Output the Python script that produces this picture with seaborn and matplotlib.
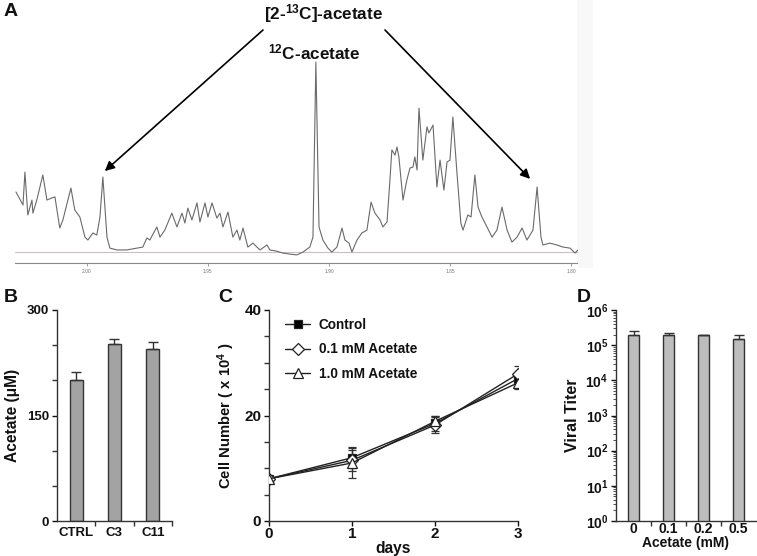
import numpy as np
import pandas as pd
import matplotlib
matplotlib.use("Agg")
import matplotlib.pyplot as plt
from matplotlib.patches import Rectangle
from matplotlib.ticker import MultipleLocator, LogLocator, NullFormatter, FixedLocator
import seaborn as sns

# ---------------- data ----------------
# Panel A: NMR spectrum (ppm, intensity)
spec_ppm = [2.0293, 2.0264, 2.0256, 2.0244, 2.0227, 2.0223, 2.0207, 2.0182, 2.0165, 2.0145,
            2.0132, 2.0112, 2.0099, 2.0066, 2.0050, 2.0029, 2.0008, 1.9996, 1.9975, 1.9959,
            1.9946, 1.9934, 1.9917, 1.9905, 1.9876, 1.9835, 1.9793, 1.9769, 1.9752, 1.9740,
            1.9711, 1.9698, 1.9678, 1.9649, 1.9628, 1.9607, 1.9595, 1.9583, 1.9566, 1.9545,
            1.9533, 1.9512, 1.9500, 1.9483, 1.9463, 1.9450, 1.9438, 1.9417, 1.9397, 1.9380,
            1.9368, 1.9355, 1.9335, 1.9314, 1.9285, 1.9256, 1.9244, 1.9219, 1.9190, 1.9161,
            1.9132, 1.9107, 1.9079, 1.9066, 1.9054, 1.9041, 1.9025, 1.9004, 1.8988, 1.8967,
            1.8946, 1.8934, 1.8917, 1.8905, 1.8884, 1.8864, 1.8843, 1.8826, 1.8810, 1.8789,
            1.8777, 1.8760, 1.8748, 1.8740, 1.8727, 1.8719, 1.8711, 1.8694, 1.8678, 1.8665,
            1.8653, 1.8645, 1.8636, 1.8628, 1.8612, 1.8595, 1.8587, 1.8570, 1.8554, 1.8541,
            1.8525, 1.8512, 1.8500, 1.8488, 1.8471, 1.8455, 1.8446, 1.8426, 1.8413, 1.8397,
            1.8384, 1.8368, 1.8347, 1.8326, 1.8306, 1.8285, 1.8264, 1.8244, 1.8223, 1.8202,
            1.8182, 1.8157, 1.8140, 1.8124, 1.8116, 1.8087, 1.8058, 1.8033, 1.8004, 1.7983,
            1.7971]
spec_int = [0.0230, 0.0180, 0.0306, 0.0142, 0.0199, 0.0149, 0.0199, 0.0295, 0.0199, 0.0207,
            0.0211, 0.0092, 0.0123, 0.0245, 0.0161, 0.0134, 0.0057, 0.0046, 0.0073, 0.0065,
            0.0134, 0.0287, 0.0057, 0.0015, 0.0008, 0.0008, 0.0015, 0.0019, 0.0054, 0.0046,
            0.0096, 0.0057, 0.0084, 0.0149, 0.0096, 0.0149, 0.0111, 0.0168, 0.0123, 0.0188,
            0.0115, 0.0188, 0.0134, 0.0188, 0.0130, 0.0149, 0.0096, 0.0153, 0.0057, 0.0084,
            0.0046, 0.0092, 0.0019, 0.0034, 0.0008, 0.0027, 0.0008, 0.0004, -0.0004, -0.0008,
            -0.0011, 0.0000, 0.0019, 0.0057, 0.0727, 0.0096, 0.0046, 0.0015, 0.0000, 0.0019,
            0.0092, 0.0046, 0.0034, 0.0000, 0.0046, 0.0073, 0.0084, 0.0191, 0.0149, 0.0123,
            0.0096, 0.0115, 0.0276, 0.0391, 0.0371, 0.0402, 0.0364, 0.0199, 0.0276, 0.0322,
            0.0325, 0.0364, 0.0314, 0.0551, 0.0352, 0.0479, 0.0456, 0.0486, 0.0249, 0.0352,
            0.0237, 0.0345, 0.0352, 0.0517, 0.0302, 0.0111, 0.0084, 0.0142, 0.0134, 0.0295,
            0.0172, 0.0134, 0.0096, 0.0057, 0.0084, 0.0172, 0.0084, 0.0038, 0.0057, 0.0092,
            0.0046, 0.0084, 0.0249, 0.0057, 0.0027, 0.0034, 0.0027, 0.0019, 0.0015, -0.0004,
            0.0008]
a_xticks = [2.00, 1.95, 1.90, 1.85, 1.80]
a_yticks = [0.00, 0.02, 0.04, 0.06, 0.08]

# Panel B
b_cats = ["CTRL", "C3", "C11"]
b_vals = [200, 251, 245]
b_err = [12, 8, 10]

# Panel C
c_days = [0, 1, 2, 3]
c_series = ["Control", "0.1 mM Acetate", "1.0 mM Acetate"]
c_control = [8.0, 12.0, 18.5, 27.0]
c_control_err = [0.5, 2.0, 1.5, 1.0]
c_ac01 = [8.0, 11.5, 18.2, 27.9]
c_ac01_err = [0.5, 2.0, 1.5, 1.4]
c_ac10 = [8.0, 11.0, 18.9, 26.2]
c_ac10_err = [0.5, 2.8, 1.0, 1.1]

# Panel D
d_cats = ["0", "0.1", "0.2", "0.5"]
d_vals = [2.0e5, 1.9e5, 1.9e5, 1.5e5]
d_err = [0.5e5, 0.3e5, 0.1e5, 0.4e5]

# ---------------- style ----------------
sns.set_style("ticks")
plt.rcParams["font.family"] = ["Liberation Sans", "DejaVu Sans"]
plt.rcParams["font.weight"] = "bold"
plt.rcParams["mathtext.fontset"] = "custom"
plt.rcParams["mathtext.rm"] = "Liberation Sans:bold"
plt.rcParams["mathtext.bf"] = "Liberation Sans:bold"
plt.rcParams["mathtext.it"] = "Liberation Sans:bold"
plt.rcParams["mathtext.default"] = "rm"

W, H = 757, 556
fig = plt.figure(figsize=(W / 100, H / 100), dpi=100)
fig.patch.set_facecolor("white")


def fx(px):
    return px / W


def fy(py):
    return 1 - py / H


TXT = "#111111"
FS = 9.5     # tick labels
FL = 11.2    # axis labels

# ---------------- Panel A ----------------
fig.patches.append(Rectangle((fx(578), fy(268)), fx(15), 268 / H, transform=fig.transFigure,
                             facecolor="#f8f8f8", edgecolor="none", zorder=0))
axA = fig.add_axes([fx(15), fy(263), fx(578 - 15), 263 / H])
axA.patch.set_alpha(0)
sns.lineplot(x=spec_ppm, y=spec_int, ax=axA, color="#6a6a6a", lw=0.8, sort=True, estimator=None)
axA.axhline(0, color="#cdbfbf", lw=0.8, zorder=0)
axA.set_xlim(2.0297, 1.7971)
axA.set_ylim(-0.0042, 0.0965)
for s in ["left", "top"]:
    axA.spines[s].set_visible(False)
for s in ["right", "bottom"]:
    axA.spines[s].set_color("#888888")
    axA.spines[s].set_linewidth(0.8)
axA.yaxis.tick_right()
axA.set_yticks(a_yticks)
axA.set_yticklabels([f"{v:.2f}" for v in a_yticks])
axA.set_xticks(a_xticks)
axA.set_xticklabels([f"{v:.2f}" for v in a_xticks])
axA.tick_params(axis="both", labelsize=3.5, colors="#777777", length=2, width=0.5, pad=2)
for lab in axA.get_xticklabels() + axA.get_yticklabels():
    lab.set_fontweight("normal")

axA.annotate("", xy=(1.9926, 0.0310), xycoords="data", xytext=(263, H - 30),
             textcoords="figure pixels",
             arrowprops=dict(arrowstyle="-|>", color="black", lw=1.2, mutation_scale=14,
                             shrinkA=0, shrinkB=0))
axA.annotate("", xy=(1.8169, 0.0280), xycoords="data", xytext=(385, H - 30),
             textcoords="figure pixels",
             arrowprops=dict(arrowstyle="-|>", color="black", lw=1.2, mutation_scale=14,
                             shrinkA=0, shrinkB=0))
fig.text(fx(324), fy(14), r"[2-$^{13}$C]-acetate", ha="center", va="center",
         fontsize=12.3, fontweight="bold", color=TXT)
fig.text(fx(314), fy(52), r"$^{12}$C-acetate", ha="center", va="center",
         fontsize=12.3, fontweight="bold", color=TXT)
fig.text(fx(4), fy(12), "A", ha="left", va="center", fontsize=14, fontweight="bold", color=TXT)


def style_small(ax, fs=FS):
    sns.despine(ax=ax)
    for s in ["left", "bottom"]:
        ax.spines[s].set_color("#333333")
        ax.spines[s].set_linewidth(1.0)
    ax.tick_params(axis="both", which="major", labelsize=fs, colors=TXT, width=1.0, length=3.5, pad=2)
    ax.tick_params(axis="both", which="minor", width=1.0, length=3.5, color="#333333")
    for lab in ax.get_xticklabels() + ax.get_yticklabels():
        lab.set_fontweight("bold")


# ---------------- Panel B ----------------
axB = fig.add_axes([fx(57), fy(521), fx(172 - 57), (521 - 310) / H])
dfB = pd.DataFrame({"cat": b_cats, "val": b_vals})
sns.barplot(data=dfB, x="cat", y="val", ax=axB, color="#a3a3a3", edgecolor="#333333",
            linewidth=1.0, width=0.34, saturation=1)
axB.errorbar(range(len(b_cats)), b_vals, yerr=[[0] * len(b_err), b_err], fmt="none",
             ecolor="#333333", elinewidth=1.0, capsize=3.5, capthick=1.0)
axB.set_xlim(-0.5, 2.5)
axB.set_ylim(0, 300)
axB.set_yticks([0, 150, 300])
axB.yaxis.set_minor_locator(MultipleLocator(50))
axB.xaxis.set_minor_locator(FixedLocator([0.5, 1.5, 2.5]))
axB.set_xlabel("")
axB.set_ylabel("Acetate (\u03bcM)", fontsize=FL, fontweight="bold", color=TXT, labelpad=5)
style_small(axB)
axB.tick_params(axis="x", which="major", length=0, pad=4)
fig.text(fx(4), fy(297), "B", ha="left", va="center", fontsize=14, fontweight="bold", color=TXT)

# ---------------- Panel C ----------------
axC = fig.add_axes([fx(269), fy(521), fx(518 - 269), (521 - 310) / H])
c_vals = [c_control, c_ac01, c_ac10]
c_errs = [c_control_err, c_ac01_err, c_ac10_err]
c_markers = ["s", "D", "^"]
c_faces = ["black", "white", "white"]
c_msize = [6, 6, 7.5]
for name, vals, errs, mk, fc, ms in zip(c_series, c_vals, c_errs, c_markers, c_faces, c_msize):
    axC.errorbar(c_days, vals, yerr=errs, fmt="none", ecolor="#333333", elinewidth=0.9,
                 capsize=3, capthick=0.9, zorder=2)
    sns.lineplot(x=c_days, y=vals, ax=axC, color="#222222", lw=1.0, marker=mk,
                 markersize=ms, markerfacecolor=fc, markeredgecolor="#222222",
                 markeredgewidth=0.9, label=name, zorder=3)
axC.set_xlim(0, 3)
axC.set_ylim(0, 40)
axC.set_xticks(c_days)
axC.set_yticks([0, 20, 40])
axC.yaxis.set_minor_locator(MultipleLocator(5))
axC.set_xlabel("days", fontsize=FL, fontweight="bold", color=TXT, labelpad=0)
axC.set_ylabel(r"Cell Number ( x 10$^{4}$ )", fontsize=10.7, fontweight="bold", color=TXT, labelpad=5)
style_small(axC, fs=11)
axC.tick_params(axis="x", which="major", pad=1)
axC.spines["bottom"].set_bounds(0, 3)
leg = axC.legend(loc="upper left", bbox_to_anchor=(0.03, 1.0), frameon=False,
                 fontsize=9.8, handlelength=1.9, labelspacing=0.75, handletextpad=0.6,
                 borderaxespad=0.2)
for t in leg.get_texts():
    t.set_fontweight("bold")
    t.set_color(TXT)
fig.text(fx(218), fy(297), "C", ha="left", va="center", fontsize=14, fontweight="bold", color=TXT)

# ---------------- Panel D ----------------
axD = fig.add_axes([fx(616), fy(521), fx(756 - 616), (521 - 310) / H])
dfD = pd.DataFrame({"cat": d_cats, "val": d_vals})
sns.barplot(data=dfD, x="cat", y="val", ax=axD, color="#bdbdbd", edgecolor="#333333",
            linewidth=1.0, width=0.34, saturation=1)
axD.errorbar(range(len(d_cats)), d_vals, yerr=[[0] * len(d_err), d_err], fmt="none",
             ecolor="#333333", elinewidth=1.0, capsize=3.5, capthick=1.0)
axD.set_yscale("log")
axD.set_xlim(-0.5, 3.5)
axD.set_ylim(1, 1e6)
axD.yaxis.set_major_locator(LogLocator(base=10, numticks=10))
axD.yaxis.set_minor_locator(LogLocator(base=10, subs=np.arange(2, 10), numticks=20))
axD.yaxis.set_minor_formatter(NullFormatter())
axD.xaxis.set_minor_locator(FixedLocator([0.5, 1.5, 2.5]))
axD.set_xlabel("Acetate (mM)", fontsize=10, fontweight="bold", color=TXT, labelpad=0)
axD.set_ylabel("Viral Titer", fontsize=11.5, fontweight="bold", color=TXT, labelpad=4)
style_small(axD, fs=10)
axD.tick_params(axis="y", which="minor", length=2, width=0.6)
axD.tick_params(axis="x", which="major", length=0, pad=1)
fig.text(fx(577), fy(297), "D", ha="left", va="center", fontsize=14, fontweight="bold", color=TXT)

fig.savefig("out.png", dpi=100, facecolor="white")
